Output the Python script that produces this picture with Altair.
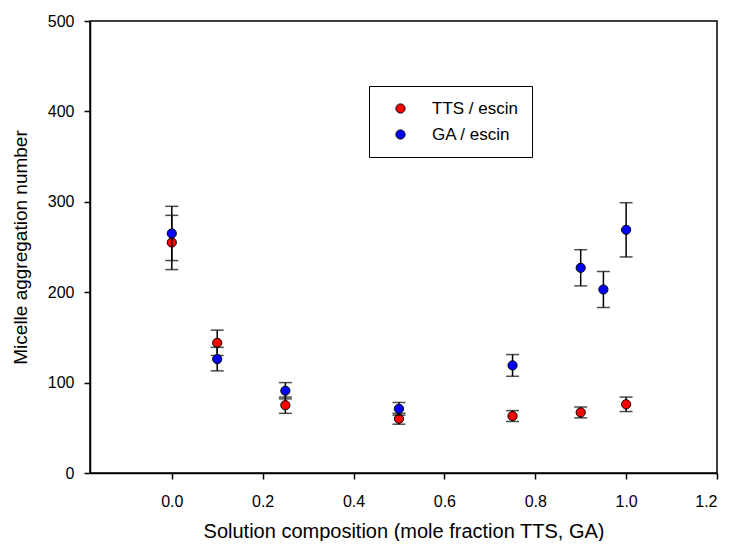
import altair as alt
import pandas as pd

# --- data ---
tts_x = [0.0, 0.1, 0.25, 0.5, 0.75, 0.9, 1.0]
tts_y = [255, 144, 75, 60, 63, 67, 76]
tts_err = [30, 14, 9, 6, 6, 6, 8]

ga_x = [0.0, 0.1, 0.25, 0.5, 0.75, 0.9, 0.95, 1.0]
ga_y = [265, 126, 91, 71, 119, 227, 203, 269]
ga_err = [30, 13, 9, 7, 12, 20, 20, 30]

series_names = ["TTS / escin", "GA / escin"]
series_colors = ["#ff0000", "#0000ff"]
x_ticks = [0.0, 0.2, 0.4, 0.6, 0.8, 1.0, 1.2]
y_ticks = [0, 100, 200, 300, 400, 500]

rows = []
for x, y, e in zip(tts_x, tts_y, tts_err):
    rows.append({"x": x, "y": y, "lo": y - e, "hi": y + e, "series": series_names[0]})
for x, y, e in zip(ga_x, ga_y, ga_err):
    rows.append({"x": x, "y": y, "lo": y - e, "hi": y + e, "series": series_names[1]})
df = pd.DataFrame(rows)

FONT = "Liberation Sans"

xscale = alt.Scale(domain=[-0.18, 1.2], nice=False, zero=False)
yscale = alt.Scale(domain=[0, 500], nice=False)
xenc = alt.X("x:Q", scale=xscale,
             axis=alt.Axis(values=x_ticks, format=".1f",
                           title="Solution composition (mole fraction TTS, GA)"))
yenc = alt.Y("y:Q", scale=yscale,
             axis=alt.Axis(values=y_ticks, title="Micelle aggregation number"))

color = alt.Color("series:N",
                  scale=alt.Scale(domain=series_names, range=series_colors),
                  legend=alt.Legend(title=None, orient="none", legendX=279, legendY=65,
                                    strokeColor="black", fillColor="white",
                                    padding=14, symbolOffset=9, labelOffset=23,
                                    rowPadding=8, labelFontSize=17, labelFont=FONT,
                                    labelColor="black", symbolType="circle",
                                    symbolSize=85, symbolStrokeColor="black",
                                    symbolStrokeWidth=1, symbolOpacity=1))

base = alt.Chart(df)

def series_layers(name):
    b = base.transform_filter(alt.datum.series == name)
    rule = b.mark_rule(color="black", strokeWidth=1.5).encode(
        x=xenc, y=alt.Y("lo:Q", scale=yscale), y2="hi:Q")
    cap_lo = b.mark_tick(color="black", orient="horizontal", size=13, thickness=1.5).encode(
        x=xenc, y=alt.Y("lo:Q", scale=yscale))
    cap_hi = b.mark_tick(color="black", orient="horizontal", size=13, thickness=1.5).encode(
        x=xenc, y=alt.Y("hi:Q", scale=yscale))
    pts = b.mark_circle(size=85, opacity=1, stroke="black", strokeWidth=1).encode(
        x=xenc, y=yenc, color=color)
    return [rule, cap_lo, cap_hi, pts]

layers = series_layers(series_names[0]) + series_layers(series_names[1])

chart = alt.layer(*layers).properties(
    width=627, height=452,
    autosize=alt.AutoSizeParams(type="none"),
    padding={"left": 82, "top": 13, "right": 10, "bottom": 68},
).configure_view(
    stroke="black", strokeWidth=1.5
).configure_axis(
    grid=False, domainColor="black", tickColor="black", labelColor="black",
    titleColor="black", labelFont=FONT, titleFont=FONT, labelFontSize=16,
    titleFontWeight="normal", tickSize=6, domainWidth=1.5, tickWidth=1.5
).configure_axisX(
    labelPadding=14, titlePadding=12, titleFontSize=20
).configure_axisY(
    labelPadding=10, titlePadding=17, titleFontSize=19
)

chart.save("out.html", embed_options={"renderer": "svg", "actions": False})
